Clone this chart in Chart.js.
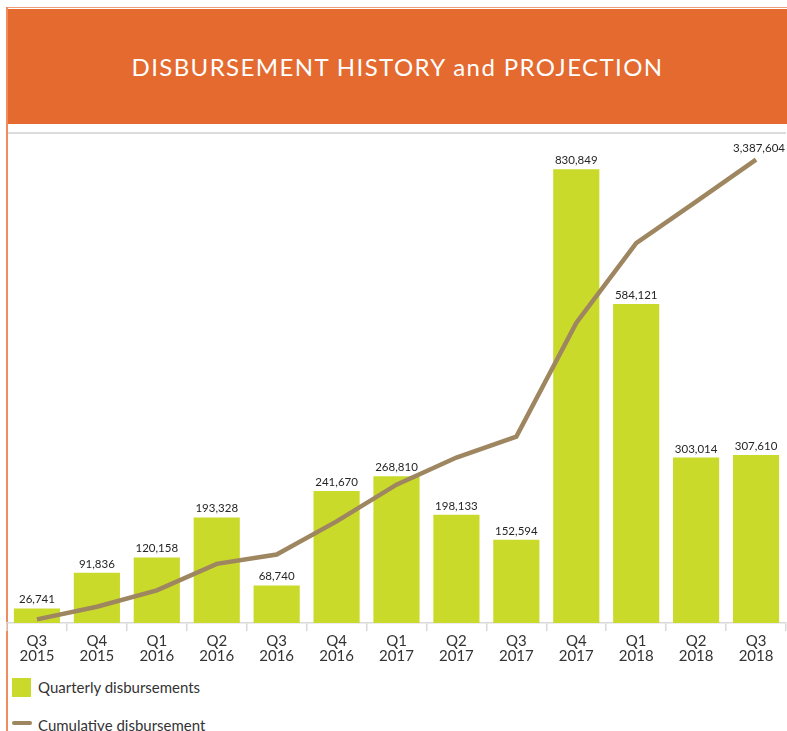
<!DOCTYPE html>
<html>
<head>
<meta charset="utf-8">
<script src="https://cdn.jsdelivr.net/npm/chart.js@4"></script>
<style>
  body { margin: 0; background: #fff; }
  #page { position: relative; width: 787px; height: 731px; overflow: hidden; font-family: Lato, "Open Sans", sans-serif; }
  .frame-top { position: absolute; left: 6px; top: 7px; width: 781px; height: 1px; background: #ef9c78; }
  .frame-left { position: absolute; left: 6px; top: 7px; width: 1.5px; height: 724px; background: #ef8c5e; }
  .header { position: absolute; left: 8px; top: 9px; width: 779px; height: 115px; background: #e46a30;
            color: #fff; font-size: 24px; letter-spacing: 1.4px; text-align: center; line-height: 115px; }
  .rule { position: absolute; left: 8px; top: 132px; width: 778px; height: 2px; background: #dcdcdc; }
  #wrap { position: absolute; left: 0; top: 135px; width: 787px; height: 540px; }
  .legend { position: absolute; left: 12px; font-size: 15px; color: #333; }
  .legend span.sw { position: absolute; left: 0; }
  .legend span.tx { position: absolute; left: 26px; white-space: nowrap; }
</style>
</head>
<body>
<div id="page">
  <div class="frame-top"></div>
  <div class="frame-left"></div>
  <div class="header">DISBURSEMENT HISTORY and PROJECTION</div>
  <div class="rule"></div>
  <div id="wrap"><canvas id="chart"></canvas></div>
  <div class="legend" style="top:678px">
    <span class="sw" style="top:0;width:19px;height:19px;background:#c9da2b"></span>
    <span class="tx" style="top:0;line-height:19px">Quarterly disbursements</span>
  </div>
  <div class="legend" style="top:715px">
    <span class="sw" style="top:6px;width:20px;height:4px;border-radius:2px;background:#9e8660"></span>
    <span class="tx" style="top:0;line-height:20px">Cumulative disbursement</span>
  </div>
</div>
<script>
// data
var quarters = ['Q3', 'Q4', 'Q1', 'Q2', 'Q3', 'Q4', 'Q1', 'Q2', 'Q3', 'Q4', 'Q1', 'Q2', 'Q3'];
var years = ['2015', '2015', '2016', '2016', '2016', '2016', '2017', '2017', '2017', '2017', '2018', '2018', '2018'];
var quarterly = [26741, 91836, 120158, 193328, 68740, 241670, 268810, 198133, 152594, 830849, 584121, 303014, 307610];
var cumulative = [26741, 118577, 238735, 432063, 500803, 742473, 1011283, 1209416, 1362010, 2192859, 2776980, 3079994, 3387604];

var labels = quarters.map(function(q, i) { return [q, years[i]]; });

function fmt(v) {
  return v.toString().replace(/\B(?=(\d{3})+(?!\d))/g, ',');
}

// value labels above bars, and the last cumulative point
var valueLabels = {
  id: 'valueLabels',
  afterDatasetsDraw: function(chart) {
    var ctx = chart.ctx;
    ctx.save();
    ctx.font = '11.5px Lato, "Open Sans", sans-serif';
    ctx.fillStyle = '#262626';
    ctx.textAlign = 'center';
    ctx.textBaseline = 'alphabetic';
    chart.getDatasetMeta(0).data.forEach(function(bar, i) {
      ctx.fillText(fmt(quarterly[i]), bar.x, bar.y - 5);
    });
    var pts = chart.getDatasetMeta(1).data;
    var last = pts[pts.length - 1];
    ctx.fillText(fmt(cumulative[cumulative.length - 1]), last.x + 3, last.y - 8);
    ctx.restore();
  }
};

var ctx = document.getElementById('chart').getContext('2d');
var chart = new Chart(ctx, {
  type: 'bar',
  data: {
    labels: labels,
    datasets: [{
      type: 'bar',
      label: 'Quarterly disbursements',
      data: quarterly,
      backgroundColor: '#c9da2b',
      barPercentage: 0.77,
      categoryPercentage: 1,
      yAxisID: 'y',
      order: 2
    }, {
      type: 'line',
      label: 'Cumulative disbursement',
      data: cumulative,
      borderColor: '#9e8660',
      borderWidth: 4.5,
      pointRadius: 0,
      tension: 0,
      yAxisID: 'y1',
      order: 1
    }]
  },
  options: {
    responsive: true,
    maintainAspectRatio: false,
    animation: false,
    layout: {
      padding: { left: 7, right: 1, top: 0, bottom: 0 }
    },
    plugins: {
      legend: { display: false },
      tooltip: { enabled: false }
    },
    scales: {
      x: {
        grid: {
          display: true,
          drawOnChartArea: false,
          drawTicks: true,
          tickLength: 8,
          color: '#d9d9d9',
          lineWidth: 1.5
        },
        border: { display: true, color: '#d9d9d9', width: 1.5 },
        ticks: {
          color: '#333',
          padding: 3,
          maxRotation: 0,
          autoSkip: false,
          font: { family: 'Lato, "Open Sans", sans-serif', size: 15, lineHeight: 1.0 }
        },
        afterFit: function(scale) { scale.height = 52; }
      },
      y: {
        display: false,
        min: 0,
        max: 893800
      },
      y1: {
        display: false,
        position: 'right',
        min: 0,
        max: 3567000
      }
    }
  },
  plugins: [valueLabels]
});
</script>
</body>
</html>
